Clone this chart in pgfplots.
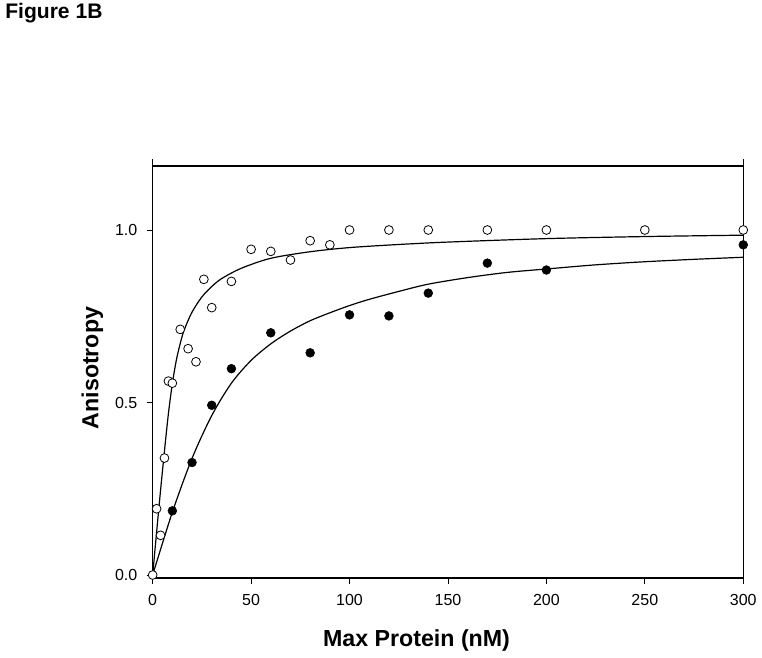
\documentclass[border=0pt]{standalone}
\usepackage{pgfplots}
\pgfplotsset{compat=1.18}
\usepackage{fontspec}
\setmainfont{Liberation Sans}
\begin{document}
\begin{tikzpicture}
\path (-114.5pt,-59.25pt) rectangle (457pt,433.5pt);
\begin{axis}[
  at={(0,0)}, anchor=south west,
  scale only axis,
  width=442.95pt, height=309pt,
  xmin=0, xmax=300, ymin=-0.0087, ymax=1.1855,
  xtick={0,50,100,150,200,250,300},
  ytick={0,0.5,1.0},
  yticklabel style={xshift=-3.5pt, /pgf/number format/fixed, /pgf/number format/fixed zerofill, /pgf/number format/precision=1},
  /pgf/number format/assume math mode=true,
  tick pos=left,
  tick align=outside,
  major tick length=4.5pt,
  tick style={black, line width=0.6pt},
  ticklabel style={font=\fontsize{12pt}{14pt}\selectfont},
  xticklabel style={yshift=-4pt},
  axis line style={line width=0.7pt},
  clip=false,
]
% open circles
\addplot[only marks, mark=*, mark size=3.3pt, mark options={fill=white, draw=black, line width=0.6pt}] coordinates {
(0,0) (2,0.192) (4,0.115) (6,0.339) (8,0.562) (10,0.556) (14,0.712) (18,0.656)
(22,0.618) (26,0.857) (30,0.775) (40,0.851) (50,0.944) (60,0.938) (70,0.913)
(80,0.969) (90,0.957) (100,1.0) (120,1.0) (140,1.0) (170,1.0) (200,1.0) (250,1.0) (300,1.0)
};
% filled circles
\addplot[only marks, mark=*, mark size=3.3pt, mark options={fill=black, draw=black}] coordinates {
(10,0.186) (20,0.326) (30,0.492) (40,0.598) (60,0.702) (80,0.644) (100,0.754)
(120,0.751) (140,0.817) (170,0.904) (200,0.884) (300,0.957)
};
% fit curve, open
\addplot[black, line width=0.9pt, smooth, no marks] coordinates {
(0,0) (2,0.124) (4,0.245) (6,0.36) (8,0.468) (10,0.555) (12,0.622) (14,0.671)
(16,0.71) (20,0.762) (25,0.806) (30,0.836) (35,0.859) (45,0.889) (60,0.918)
(80,0.937) (100,0.949) (125,0.958) (150,0.965) (200,0.975) (250,0.981) (300,0.985)
};
% fit curve, filled
\addplot[black, line width=0.9pt, smooth, no marks] coordinates {
(0,0) (10,0.182) (20,0.338) (30,0.462) (40,0.556) (50,0.622) (60,0.670) (70,0.707)
(80,0.737) (90,0.760) (100,0.781) (110,0.799) (125,0.822) (140,0.843) (160,0.862)
(180,0.877) (200,0.887) (225,0.899) (250,0.908) (275,0.915) (300,0.921)
};
\draw[line width=1.4pt] (rel axis cs:0,1) -- (rel axis cs:1,1);
\draw[line width=1.4pt] (rel axis cs:0,0) -- (rel axis cs:1,0);
\draw[line width=0.7pt] (rel axis cs:0,1) -- ++(0,3pt);
\draw[line width=0.7pt] (rel axis cs:1,1) -- ++(0,3pt);
\end{axis}
\node[anchor=west, inner sep=0pt, font=\bfseries\fontsize{15.8pt}{18pt}\selectfont] at (-110.7pt,423.4pt) {Figure 1B};
\node[font=\bfseries\fontsize{17.4pt}{20pt}\selectfont] at (197.9pt,-46.5pt) {Max Protein (nM)};
\node[rotate=90, font=\bfseries\fontsize{17.4pt}{20pt}\selectfont] at (-45.2pt,157.5pt) {Anisotropy};
\end{tikzpicture}
\end{document}
